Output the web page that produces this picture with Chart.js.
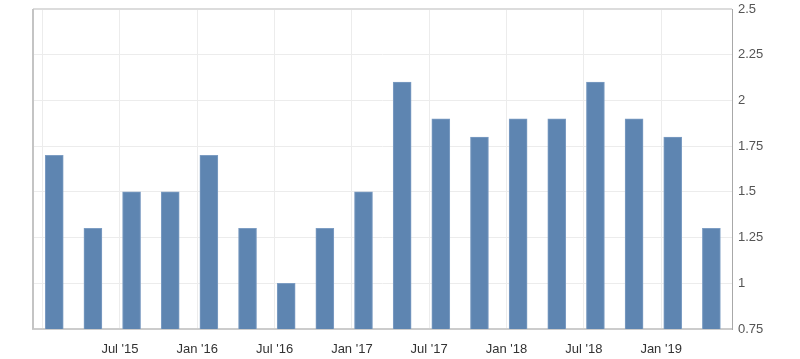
<!DOCTYPE html>
<html>
<head>
<meta charset="utf-8">
<script src="https://cdn.jsdelivr.net/npm/chart.js@4"></script>
<style>
  html, body { margin: 0; padding: 0; background: #fff; }
  #wrap { width: 800px; height: 359px; position: relative; }
</style>
</head>
<body>
<div id="wrap"><canvas id="chart"></canvas></div>
<script>
// Quarterly values, 2015 Q1 .. 2019 Q2
const quarters = ['2015 Q1', '2015 Q2', '2015 Q3', '2015 Q4', '2016 Q1', '2016 Q2', '2016 Q3', '2016 Q4',
  '2017 Q1', '2017 Q2', '2017 Q3', '2017 Q4', '2018 Q1', '2018 Q2', '2018 Q3', '2018 Q4', '2019 Q1', '2019 Q2'];
const values = [1.7, 1.3, 1.5, 1.5, 1.7, 1.3, 1.0, 1.3, 1.5, 2.1, 1.9, 1.8, 1.9, 1.9, 2.1, 1.9, 1.8, 1.3];

// Tick labels on the time axis (months counted from Jan 2015)
const tickMonths = [0, 6, 12, 18, 24, 30, 36, 42, 48];
const tickLabels = ['', "Jul '15", "Jan '16", "Jul '16", "Jan '17", "Jul '17", "Jan '18", "Jul '18", "Jan '19"];

// quarter -> month position on the axis
const monthOf = q => {
  const [yr, qq] = q.split(' Q');
  return (parseInt(yr) - 2015) * 12 + (parseInt(qq) - 1) * 3 + 0.9;
};
const points = quarters.map((q, i) => ({ x: monthOf(q), y: values[i] }));

const gridColor = '#ececec';
const fontSettings = { family: "'Liberation Sans', Arial, sans-serif", size: 13 };

// frame lines on the left and top of the plot area
const framePlugin = {
  id: 'frame',
  afterDraw(chart) {
    const { ctx, chartArea: a } = chart;
    ctx.save();
    ctx.strokeStyle = '#dcdcdc';
    ctx.lineWidth = 2;
    ctx.beginPath();
    ctx.moveTo(a.left, a.top);
    ctx.lineTo(a.right, a.top);
    ctx.stroke();
    ctx.strokeStyle = '#c4c4c4';
    ctx.beginPath();
    ctx.moveTo(a.left, a.top);
    ctx.lineTo(a.left, a.bottom);
    ctx.stroke();
    ctx.restore();
  }
};

new Chart(document.getElementById('chart'), {
  type: 'bar',
  data: {
    datasets: [{
      data: points,
      backgroundColor: '#5e85b1',
      borderColor: '#7d9dc3',
      borderWidth: 1,
      barThickness: 18
    }]
  },
  options: {
    responsive: true,
    maintainAspectRatio: false,
    animation: false,
    layout: { padding: { left: 33, top: 9, right: 0, bottom: 0 } },
    plugins: { legend: { display: false }, tooltip: { enabled: false } },
    scales: {
      x: {
        type: 'linear',
        offset: false,
        min: -0.75,
        max: 53.5,
        afterBuildTicks: s => { s.ticks = tickMonths.map(v => ({ value: v })); },
        afterFit: s => { s.height = 30; },
        grid: { color: gridColor, drawTicks: false, offset: false },
        border: { color: '#cccccc', width: 2 },
        ticks: {
          color: '#333',
          font: fontSettings,
          padding: 13,
          maxRotation: 0,
          autoSkip: false,
          callback: v => tickLabels[tickMonths.indexOf(v)] ?? ''
        }
      },
      y: {
        position: 'right',
        min: 0.75,
        max: 2.5,
        afterFit: s => { s.width = 68; s.paddingTop = 0; s.paddingBottom = 0; },
        grid: { color: gridColor, drawTicks: false },
        border: { color: '#a8a8a8' },
        ticks: {
          stepSize: 0.25,
          color: '#555',
          font: fontSettings,
          padding: 6,
          callback: v => String(parseFloat(v.toFixed(2)))
        }
      }
    }
  },
  plugins: [framePlugin]
});
</script>
</body>
</html>
